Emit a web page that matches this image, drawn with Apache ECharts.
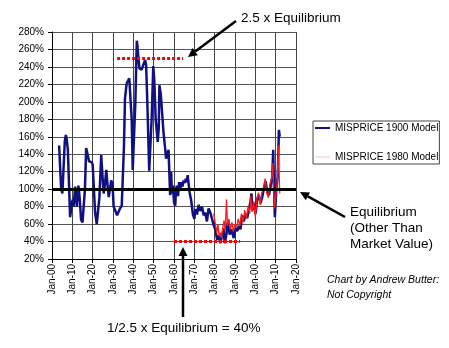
<!DOCTYPE html>
<html>
<head>
<meta charset="utf-8">
<script src="https://cdn.jsdelivr.net/npm/echarts@6/dist/echarts.min.js"></script>
<style>html,body{margin:0;padding:0;background:#fff}#c{width:449px;height:348px}</style>
</head>
<body>
<div id="c"></div>
<script>
// ---- data ----
var model1900Years = [1903.5,1904.0,1904.5,1905.1,1905.6,1906.3,1906.8,1907.2,1907.8,1908.3,1908.9,1909.4,1910.1,1910.6,1911.4,1912.2,1913.0,1913.6,1914.3,1915.0,1915.5,1916.2,1916.8,1917.5,1918.2,1918.8,1919.5,1920.0,1920.6,1921.2,1922.0,1922.6,1923.3,1924.2,1924.7,1925.4,1926.0,1926.7,1927.3,1927.9,1928.5,1929.1,1929.8,1930.3,1931.2,1932.0,1932.8,1933.5,1934.3,1934.8,1935.4,1935.9,1936.7,1937.5,1938.0,1938.7,1939.2,1939.7,1940.3,1941.0,1941.7,1942.0,1942.5,1943.0,1944.1,1944.9,1945.8,1946.3,1947.0,1947.8,1948.3,1949.0,1949.8,1950.3,1951.0,1952.0,1952.5,1952.8,1953.5,1954.8,1955.5,1956.1,1957.3,1957.8,1958.1,1958.6,1959.0,1959.5,1960.0,1960.6,1961.0,1961.4,1962.0,1962.5,1963.1,1963.7,1964.2,1964.7,1965.3,1965.8,1966.3,1966.7,1967.2,1967.7,1968.4,1969.3,1970.0,1970.5,1971.3,1972.1,1972.9,1973.8,1974.6,1975.4,1976.2,1977.0,1977.9,1978.7,1979.5,1980.3,1981.2,1982.0,1982.8,1983.7,1984.4,1984.9,1985.8,1986.4,1987.4,1988.2,1989.4,1990.2,1991.1,1991.9,1992.7,1993.5,1994.3,1995.2,1996.0,1996.8,1997.6,1998.1,1998.5,1999.3,2000.1,2000.9,2001.7,2002.6,2003.4,2004.2,2005.0,2005.9,2006.7,2007.5,2008.3,2008.8,2009.1,2009.6,2010.3,2011.0,2011.6,2012.0];
var model1900Values = [150,125,100,95,120,155,162,158,145,110,68,70,88,80,103,80,104,90,65,62,63,100,147,140,132,130,131,128,100,73,60,59,90,139,120,95,105,122,105,91,100,110,106,80,75,70,72,78,81,83,150,204,221,220,227,226,180,122,122,200,270,265,250,238,237,238,248,242,190,121,122,180,241,225,180,154,170,219,209,166,150,135,145,147,93,120,95,104,85,81,100,104,92,108,100,108,103,110,107,112,108,116,117,96,88,71,66,77,71,82,75,80,70,73,63,78,73,73,59,54,42,47,38,40,55,38,48,62,48,54,44,55,52,58,54,70,63,72,67,76,86,95,76,84,72,88,93,84,91,101,109,97,93,103,114,145,110,68,99,114,168,160];
var model1980Years = [1979.5,1980.0,1980.5,1981.0,1981.6,1982.2,1982.8,1983.4,1984.0,1984.6,1985.2,1985.8,1986.3,1987.0,1987.8,1988.5,1989.2,1990.0,1990.8,1991.6,1992.4,1993.2,1994.0,1994.8,1995.6,1996.4,1997.2,1997.8,1998.4,1999.2,2000.0,2000.8,2001.6,2002.4,2003.2,2004.0,2004.8,2005.6,2006.4,2007.2,2008.0,2008.6,2009.0,2009.5,2010.2,2010.8,2011.3,2011.7,2012.0];
var model1980Values = [72,65,58,50,60,46,50,44,56,64,52,88,58,66,54,62,52,60,56,66,58,72,62,76,66,80,72,92,74,86,68,90,96,82,96,100,112,96,90,106,112,130,100,78,96,110,150,120,95];
var seriesNames = ['MISPRICE 1900 Model', 'MISPRICE 1980 Model'];
var equilibriumLevel = 100;
var upperBand = {from: 1932, to: 1964.5, level: 250};
var lowerBand = {from: 1960, to: 1992.5, level: 40};
var yTicks = {min: 20, max: 280, step: 20};
var xTicks = {min: 1900, max: 2020, step: 10};

function pairs(xs, ys){ return xs.map(function(x,i){ return [x, ys[i]]; }); }

var FONT = 'Liberation Sans';
var chart = echarts.init(document.getElementById('c'), null, {renderer:'canvas'});

function arrow(x1,y1,x2,y2){
  var dx=x2-x1, dy=y2-y1, L=Math.sqrt(dx*dx+dy*dy), ux=dx/L, uy=dy/L;
  var hl=9, hw=4.5;
  var bx=x2-ux*hl, by=y2-uy*hl;
  return [
    {type:'line', shape:{x1:x1,y1:y1,x2:bx,y2:by}, style:{stroke:'#000', lineWidth:2.5}, z:100},
    {type:'polygon', shape:{points:[[x2,y2],[bx-uy*hw,by+ux*hw],[bx+uy*hw,by-ux*hw]]}, style:{fill:'#000'}, z:100}
  ];
}

var graphics = [].concat(
  arrow(236,21,188,57),
  arrow(345,217,300,192),
  arrow(183,317,183,247),
  [
    {type:'text', left:241, top:11, style:{text:'2.5 x Equilibrium', font:'13.5px "'+FONT+'"', fill:'#000'}},
    {type:'text', left:350, top:204, style:{text:'Equilibrium\n(Other Than\nMarket Value)', font:'13.5px "'+FONT+'"', lineHeight:16, fill:'#000'}},
    {type:'text', left:107, top:321, style:{text:'1/2.5 x Equilibrium = 40%', font:'13.5px "'+FONT+'"', fill:'#000'}},
    {type:'text', left:327, top:273, style:{text:'Chart by Andrew Butter:\nNot Copyright', font:'italic 10.5px "'+FONT+'"', lineHeight:15, fill:'#000'}}
  ]
);

chart.setOption({
  animation:false,
  backgroundColor:'#fff',
  textStyle:{fontFamily:FONT},
  grid:{left:52, right:153, top:32, bottom:89, containLabel:false},
  legend:{
    orient:'vertical', left:313, top:121,
    padding:[2,1,2,2], itemGap:19, itemWidth:15, itemHeight:14, itemTextGap:2,
    borderColor:'#444', borderWidth:1,
    textStyle:{fontSize:10, color:'#000', fontFamily:FONT},
    data:[
      {name:seriesNames[0], icon:'path://M0,6 L15,6 L15,8 L0,8 Z', itemStyle:{color:'#101080'}},
      {name:seriesNames[1], icon:'path://M0,6.5 L15,6.5 L15,7.5 L0,7.5 Z', itemStyle:{color:'#f3c4c4'}}
    ]
  },
  xAxis:{
    type:'value', min:xTicks.min, max:xTicks.max, interval:xTicks.step,
    axisLine:{show:true, onZero:false, lineStyle:{color:'#000', width:1}},
    axisTick:{show:true, length:4, lineStyle:{color:'#000'}},
    splitLine:{show:true, lineStyle:{color:'#444', width:1}},
    axisLabel:{rotate:90, fontSize:10, color:'#000', margin:5, fontFamily:FONT,
      formatter:function(v){ var y=Math.round(v)%100; return 'Jan-'+(y<10?'0':'')+y; }}
  },
  yAxis:{
    type:'value', min:yTicks.min, max:yTicks.max, interval:yTicks.step,
    axisLine:{show:true, lineStyle:{color:'#000', width:1}},
    axisTick:{show:true, length:4, lineStyle:{color:'#000'}},
    splitLine:{show:true, lineStyle:{color:'#555', width:1}},
    axisLabel:{fontSize:10, color:'#000', margin:8, fontFamily:FONT, formatter:'{value}%'}
  },
  series:[
    {
      name:seriesNames[0], type:'line', data:pairs(model1900Years, model1900Values),
      showSymbol:false, symbol:'none', lineStyle:{color:'#101080', width:2.5}, itemStyle:{color:'#101080'}, z:2
    },
    {
      name:seriesNames[1], type:'line', data:pairs(model1980Years, model1980Values),
      showSymbol:false, symbol:'none', lineStyle:{color:'#ff1a1a', width:1.3}, itemStyle:{color:'#ff1a1a'}, z:3,
      markLine:{
        silent:true, symbol:'none', label:{show:false}, animation:false,
        data:[
          [{coord:[upperBand.from, upperBand.level], lineStyle:{color:'#ff0000', width:3, type:[3,2]}}, {coord:[upperBand.to, upperBand.level]}],
          [{coord:[lowerBand.from, lowerBand.level], lineStyle:{color:'#ff0000', width:3, type:[3,2]}}, {coord:[lowerBand.to, lowerBand.level]}],
          {yAxis:equilibriumLevel, lineStyle:{color:'#000', width:3, type:'solid'}}
        ]
      }
    }
  ],
  graphic:graphics
});
</script>
</body>
</html>
